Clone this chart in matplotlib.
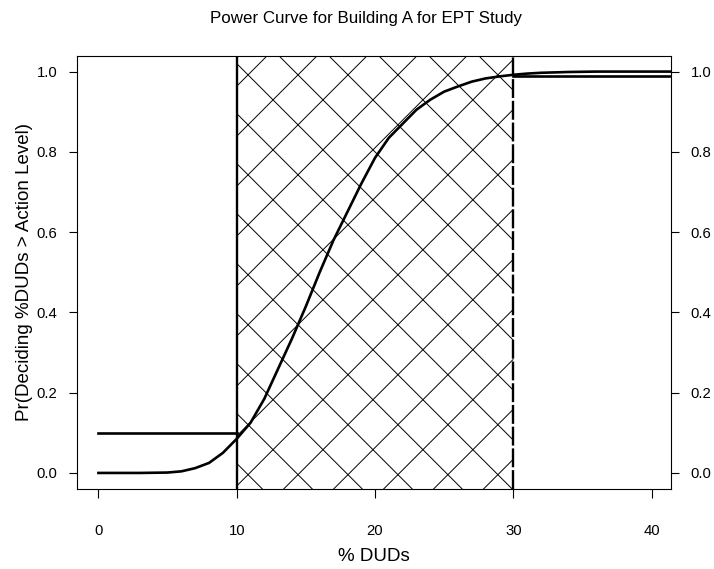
import numpy as np
import matplotlib
matplotlib.use("Agg")
import matplotlib.pyplot as plt

plt.rcParams['font.family'] = ['Liberation Sans', 'DejaVu Sans']

# power curve
pct_duds = [0, 1, 2, 3, 4, 5, 6, 7, 8, 9, 10, 11, 12, 13, 14, 15, 16, 17, 18, 19,
            20, 21, 22, 23, 24, 25, 26, 27, 28, 29, 30, 31, 32, 33, 34, 35, 36,
            38, 40, 42]
pr_decide = [0.0, 0.0, 0.0, 0.0, 0.0005, 0.001, 0.004, 0.012, 0.025, 0.05,
             0.085, 0.125, 0.185, 0.26, 0.335, 0.415, 0.50, 0.58, 0.65, 0.72,
             0.785, 0.835, 0.87, 0.905, 0.93, 0.95, 0.963, 0.975, 0.983, 0.988,
             0.992, 0.995, 0.997, 0.998, 0.999, 0.9995, 1.0, 1.0, 1.0, 1.0]

action_level = 10
upper_level = 30
alpha_x = [0, 10]
alpha_y = [0.1, 0.1]
beta_x = [30, 45]
beta_y = [0.99, 0.99]

x_ticks = [0, 10, 20, 30, 40]
y_ticks = [0.0, 0.2, 0.4, 0.6, 0.8, 1.0]

fig = plt.figure(figsize=(7.14, 5.69), dpi=100)
ax = fig.add_axes([0.1078, 0.1406, 0.8319, 0.7618])
ax.set_xlim(-1.55, 41.4)
ax.set_ylim(-0.04, 1.04)

# cross hatching between the two levels (45 degree lines, ~50 px period)
hx = np.array([action_level, upper_level], dtype=float)
slope = 13.84 / 401.6          # data units of y per unit x for a 45 deg line
period = 3.613
x0, y0 = 10.82, 0.9918
for k in range(-20, 40):
    c = x0 + k * period
    ax.plot(hx, y0 + slope * (hx - c), color='black', lw=0.7, solid_capstyle='butt')
    ax.plot(hx, y0 - slope * (hx - c), color='black', lw=0.7, solid_capstyle='butt')

ax.axvline(action_level, color='black', lw=1.7)
ax.axvline(upper_level, color='black', lw=1.7, dashes=(8, 1.2))

ax.plot(pct_duds, pr_decide, color='black', lw=1.9)
ax.plot(alpha_x, alpha_y, color='black', lw=1.9)
ax.plot(beta_x, beta_y, color='black', lw=1.9)

ax.set_xticks(x_ticks)
ax.set_xticklabels([str(t) for t in x_ticks])
ax.set_yticks(y_ticks)
ax.set_yticklabels([f"{t:.1f}" for t in y_ticks])
ax.tick_params(axis='x', direction='out', length=6.4, width=0.8, pad=18.5, labelsize=10.7)
ax.tick_params(axis='y', direction='out', length=6.1, width=0.8, labelsize=10.7,
               right=True, labelright=True)
ax.yaxis.set_tick_params(which='major', pad=8.5)
for t in ax.yaxis.get_major_ticks():
    t.tick2line.set_markersize(6.1)
    t.set_pad(8.0)

for s in ax.spines.values():
    s.set_linewidth(0.8)

ax.set_xlabel('% DUDs', fontsize=13.5)
ax.xaxis.set_label_coords(0.5, -0.156)
ax.xaxis.label.set_va('center')
ax.set_ylabel('Pr(Deciding %DUDs > Action Level)', fontsize=13.5)
ax.yaxis.set_label_coords(-0.089, 0.5)
ax.yaxis.label.set_va('center')
ax.yaxis.label.set_ha('center')

fig.text(0.513, 0.968, 'Power Curve for Building A for EPT Study', ha='center',
         va='center', fontsize=12.2)

fig.savefig('out.png', dpi=100)
